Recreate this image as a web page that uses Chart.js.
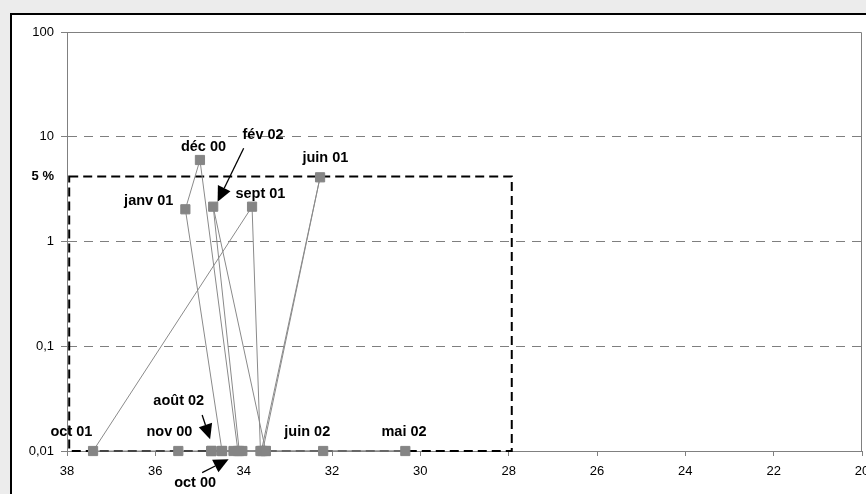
<!DOCTYPE html>
<html>
<head>
<meta charset="utf-8">
<script src="https://cdn.jsdelivr.net/npm/chart.js@4.4.0/dist/chart.umd.min.js"></script>
<style>
  html, body { margin: 0; padding: 0; width: 866px; height: 494px; overflow: hidden; background: #ececec; }
  #frame { position: absolute; left: 10px; top: 13px; width: 900px; height: 520px; border: 2px solid #000; background: #fff; }
  #wrap { position: absolute; left: 0; top: 0; width: 866px; height: 494px; }
</style>
</head>
<body>
<div id="frame"></div>
<div id="wrap"><canvas id="chart" width="866" height="494"></canvas></div>
<script>
// Monthly points, in series order (x axis reversed, y axis logarithmic)
const months = ['oct 00', 'nov 00', 'déc 00', 'janv 01', 'fév 01', 'mars 01', 'avr 01', 'mai 01',
  'juin 01', 'juil 01', 'août 01', 'sept 01', 'oct 01', 'nov 01', 'déc 01', 'janv 02',
  'fév 02', 'mars 02', 'avr 02', 'mai 02', 'juin 02', 'juil 02', 'août 02'];
const xValues = [34.49, 34.13, 34.99, 35.32, 34.49, 34.23, 34.03, 33.6,
  32.27, 33.57, 33.62, 33.81, 37.41, 35.48, 33.5, 34.1,
  34.69, 33.5, 34.73, 30.34, 32.2, 34.73, 34.73];
const yValues = [0.01, 0.01, 6.0, 2.03, 0.01, 0.01, 0.01, 0.01,
  4.1, 0.01, 0.01, 2.15, 0.01, 0.01, 0.01, 0.01,
  2.15, 0.01, 0.01, 0.01, 0.01, 0.01, 0.01];

const xTicks = [38, 36, 34, 32, 30, 28, 26, 24, 22, 20];
const yTicks = [0.01, 0.1, 1, 10, 100];

const FONT = '"Liberation Sans", Arial, sans-serif';

// dashed "5 %" box, in axis units
const zone = { xFrom: 37.95, xTo: 27.93, yFrom: 0.01, yTo: 4.17, label: '5 %' };

// text labels and arrows, placed in axis units
const notes = [
  { text: 'déc 00', x: 34.91, y: 7.98 },
  { text: 'janv 01', x: 36.15, y: 2.41 },
  { text: 'fév 02', x: 33.56, y: 10.28 },
  { text: 'sept 01', x: 33.62, y: 2.87 },
  { text: 'juin 01', x: 32.15, y: 6.27 },
  { text: 'oct 01', x: 37.90, y: 0.01503 },
  { text: 'nov 00', x: 35.68, y: 0.01503 },
  { text: 'juin 02', x: 32.56, y: 0.01503 },
  { text: 'mai 02', x: 30.37, y: 0.01503 },
  { text: 'août 02', x: 35.47, y: 0.030 },
  { text: 'oct 00', x: 35.10, y: 0.00495 },
];
const arrows = [
  { from: [34.0, 7.77], to: [34.59, 2.40] },
  { from: [34.94, 0.0221], to: [34.76, 0.01294] },
  { from: [34.94, 0.00621], to: [34.34, 0.00834] },
];

const points = months.map((m, i) => ({ x: xValues[i], y: yValues[i], month: m }));

const framePlugin = {
  id: 'frame',
  beforeDatasetsDraw(chart) {
    const { ctx, chartArea: a, scales: { x, y } } = chart;
    ctx.save();
    ctx.strokeStyle = '#808080';
    ctx.lineWidth = 1;
    ctx.beginPath();
    ctx.moveTo(a.left, a.top + 0.5);
    ctx.lineTo(a.right - 0.5, a.top + 0.5);
    ctx.lineTo(a.right - 0.5, a.bottom);
    ctx.stroke();

    // dashed zone
    const x1 = x.getPixelForValue(zone.xFrom), x2 = x.getPixelForValue(zone.xTo);
    const y1 = y.getPixelForValue(zone.yTo), y2 = y.getPixelForValue(zone.yFrom);
    ctx.strokeStyle = '#000';
    ctx.lineWidth = 2;
    ctx.setLineDash([9, 5]);
    ctx.strokeRect(x1, y1, x2 - x1, y2 - y1);
    ctx.setLineDash([]);
    ctx.fillStyle = '#000';
    ctx.font = 'bold 13px ' + FONT;
    ctx.textAlign = 'right';
    ctx.textBaseline = 'middle';
    ctx.fillText(zone.label, a.left - 13, y1);
    ctx.restore();
  },
  afterDatasetsDraw(chart) {
    const { ctx, scales: { x, y } } = chart;
    ctx.save();
    ctx.fillStyle = '#000';
    ctx.strokeStyle = '#000';
    ctx.font = 'bold 14.5px ' + FONT;
    ctx.textAlign = 'center';
    ctx.textBaseline = 'middle';
    notes.forEach(n => ctx.fillText(n.text, x.getPixelForValue(n.x), y.getPixelForValue(n.y)));

    arrows.forEach(ar => {
      const fx = x.getPixelForValue(ar.from[0]), fy = y.getPixelForValue(ar.from[1]);
      const tx = x.getPixelForValue(ar.to[0]), ty = y.getPixelForValue(ar.to[1]);
      const ang = Math.atan2(ty - fy, tx - fx);
      const len = 15, half = 7;
      const bx = tx - len * Math.cos(ang), by = ty - len * Math.sin(ang);
      ctx.lineWidth = 1.3;
      ctx.beginPath();
      ctx.moveTo(fx, fy);
      ctx.lineTo(bx, by);
      ctx.stroke();
      ctx.beginPath();
      ctx.moveTo(tx, ty);
      ctx.lineTo(bx + half * Math.sin(ang), by - half * Math.cos(ang));
      ctx.lineTo(bx - half * Math.sin(ang), by + half * Math.cos(ang));
      ctx.closePath();
      ctx.fill();
    });
    ctx.restore();
  }
};

new Chart(document.getElementById('chart').getContext('2d'), {
  type: 'scatter',
  data: {
    datasets: [{
      data: points,
      showLine: true,
      borderColor: '#8a8a8a',
      borderWidth: 1,
      tension: 0,
      pointStyle: 'rect',
      pointRadius: 6.5,
      pointHoverRadius: 6.5,
      pointBackgroundColor: '#858585',
      pointBorderColor: '#858585',
      pointBorderWidth: 1,
      clip: false,
    }]
  },
  options: {
    responsive: false,
    animation: false,
    devicePixelRatio: 1,
    layout: { autoPadding: false, padding: { top: 32, right: 4, bottom: 0, left: 0 } },
    plugins: {
      legend: { display: false },
      tooltip: { enabled: false },
    },
    scales: {
      x: {
        type: 'linear',
        reverse: true,
        min: 20,
        max: 38,
        afterBuildTicks(scale) { scale.ticks = xTicks.map(v => ({ value: v })); },
        afterFit(scale) { scale.height = 43; scale.paddingLeft = 0; scale.paddingRight = 0; },
        ticks: { color: '#000', font: { family: FONT, size: 13 }, padding: 8, maxRotation: 0, autoSkip: false },
        grid: { drawOnChartArea: false, drawTicks: true, tickLength: 5, tickColor: '#808080' },
        border: { color: '#808080', width: 1 },
      },
      y: {
        type: 'logarithmic',
        min: 0.01,
        max: 100,
        afterBuildTicks(scale) { scale.ticks = yTicks.map(v => ({ value: v, major: true })); },
        afterFit(scale) { scale.width = 67; },
        ticks: {
          color: '#000',
          font: { family: FONT, size: 13 },
          padding: 7,
          callback: v => String(v).replace('.', ','),
        },
        grid: { color: '#7f7f7f', lineWidth: 1, tickLength: 6, tickColor: '#808080' },
        border: { color: '#808080', width: 1, dash: [9, 7] },
      }
    }
  },
  plugins: [framePlugin]
});
</script>
</body>
</html>
